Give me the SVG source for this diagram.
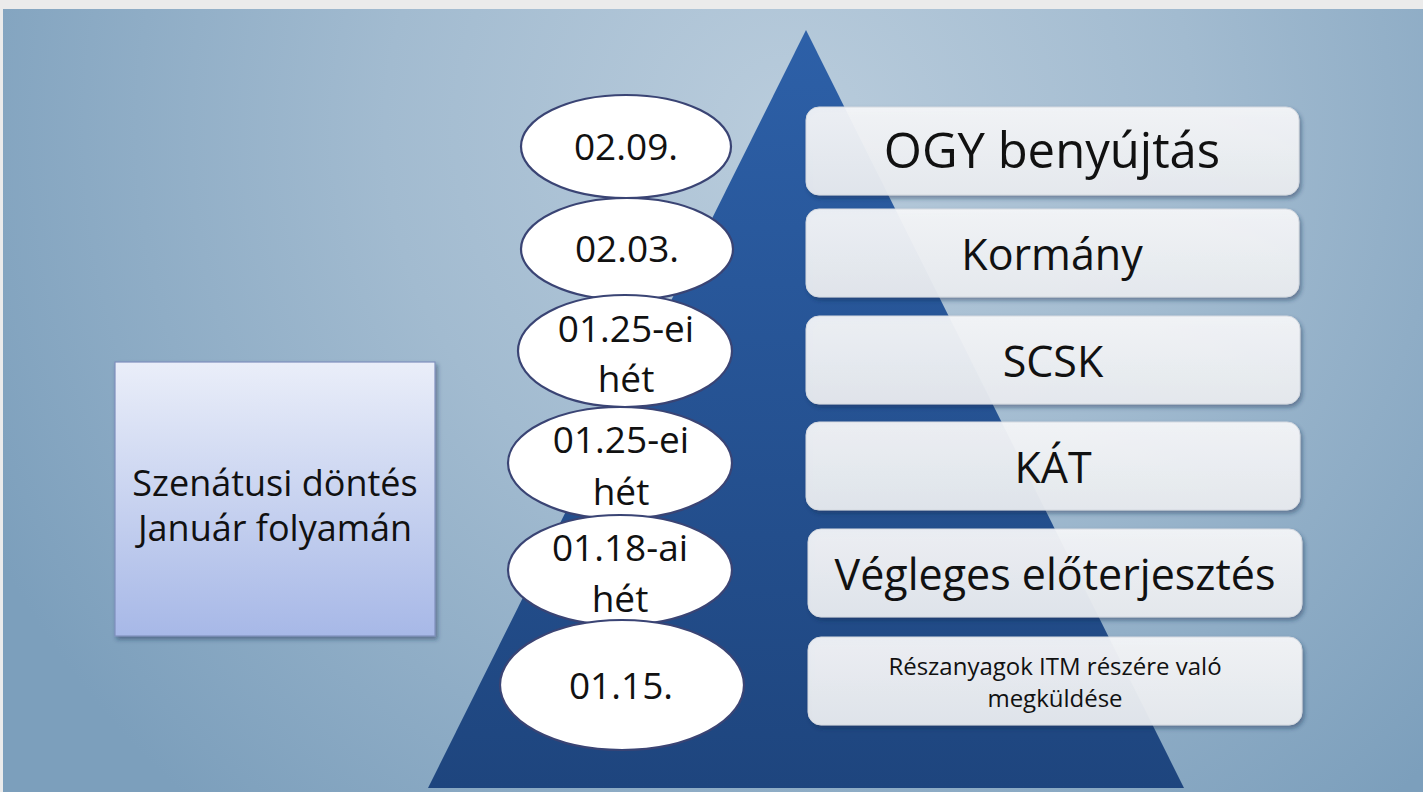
<svg xmlns="http://www.w3.org/2000/svg" width="1423" height="792" viewBox="0 0 1423 792">
<defs>
<radialGradient id="bg" cx="790" cy="130" r="900" gradientUnits="userSpaceOnUse">
<stop offset="0" stop-color="#b9ccdc"/>
<stop offset="0.45" stop-color="#a2bbd0"/>
<stop offset="1" stop-color="#7c9fbc"/>
</radialGradient>
<linearGradient id="pyr" x1="0" y1="0" x2="0" y2="1">
<stop offset="0" stop-color="#2d60a8"/>
<stop offset="1" stop-color="#1e457e"/>
</linearGradient>
<linearGradient id="boxg" x1="0" y1="0" x2="0" y2="1">
<stop offset="0" stop-color="#f7f8fa"/>
<stop offset="1" stop-color="#eaedf1"/>
</linearGradient>
<linearGradient id="leftg" x1="0" y1="0" x2="0" y2="1">
<stop offset="0" stop-color="#eaeef9"/>
<stop offset="1" stop-color="#a7b8e7"/>
</linearGradient>
<filter id="sh" x="-10%" y="-10%" width="125%" height="135%">
<feDropShadow dx="2" dy="3" stdDeviation="2" flood-color="#1f2f4f" flood-opacity="0.45"/>
</filter>
</defs>
<style>
.t{font-family:"Open Sans","Liberation Sans",sans-serif;fill:#111;text-anchor:middle}
.ell{fill:#fff;stroke:#3a4474;stroke-width:2.2}
.box{fill:url(#boxg);fill-opacity:0.93;stroke:#d5d9e0;stroke-width:1;filter:url(#sh)}
.et{font-size:37px}
.bt{font-size:43px}
</style>
<rect x="0" y="0" width="1423" height="792" fill="#ebebeb"/>
<rect x="3" y="9" width="1420" height="783" fill="url(#bg)"/>
<g id="pyramid">
<polygon points="806,30 428,788 1184,788" fill="url(#pyr)"/>
</g>
<g id="connectors"/>
<g id="left-box">
<rect x="115" y="362" width="320" height="274" fill="url(#leftg)" stroke="#7f8fbd" stroke-width="1.2" filter="url(#sh)"/>
<text class="t" x="275" y="496" font-size="36">Szenátusi döntés</text>
<text class="t" x="275" y="541" font-size="36">Január folyamán</text>
</g>
<g id="box-ogy">
<rect class="box" x="806" y="107" width="493" height="88" rx="13"/>
<text class="t" x="1052" y="168" font-size="49">OGY benyújtás</text>
</g>
<g id="box-kormany">
<rect class="box" x="806" y="209" width="493" height="88" rx="13"/>
<text class="t bt" x="1052" y="270">Kormány</text>
</g>
<g id="box-scsk">
<rect class="box" x="806" y="316" width="494" height="88" rx="13"/>
<text class="t bt" x="1053" y="377">SCSK</text>
</g>
<g id="box-kat">
<rect class="box" x="806" y="422" width="494" height="88" rx="13"/>
<text class="t bt" x="1053" y="483">KÁT</text>
</g>
<g id="box-vegleges">
<rect class="box" x="808" y="529" width="494" height="88" rx="13"/>
<text class="t bt" x="1055" y="590">Végleges előterjesztés</text>
</g>
<g id="box-reszanyagok">
<rect class="box" x="808" y="637" width="494" height="88" rx="13"/>
<text class="t" x="1055" y="675" font-size="24" fill="#2a2a2a">Részanyagok ITM részére való</text>
<text class="t" x="1055" y="707" font-size="24" fill="#2a2a2a">megküldése</text>
</g>
<g id="ell-0209">
<ellipse class="ell" cx="626" cy="146.5" rx="105" ry="51.5"/>
<text class="t et" x="626" y="160">02.09.</text>
</g>
<g id="ell-0203">
<ellipse class="ell" cx="627" cy="249" rx="106" ry="51"/>
<text class="t et" x="627" y="262">02.03.</text>
</g>
<g id="ell-0125a">
<ellipse class="ell" cx="625" cy="351" rx="107" ry="56"/>
<text class="t et" x="626" y="342">01.25-ei</text>
<text class="t et" x="626" y="392">hét</text>
</g>
<g id="ell-0125b">
<ellipse class="ell" cx="620" cy="463" rx="112" ry="56"/>
<text class="t et" x="621" y="453">01.25-ei</text>
<text class="t et" x="621" y="505">hét</text>
</g>
<g id="ell-0118">
<ellipse class="ell" cx="620" cy="570" rx="112" ry="55"/>
<text class="t et" x="620" y="561">01.18-ai</text>
<text class="t et" x="620" y="612">hét</text>
</g>
<g id="ell-0115">
<ellipse class="ell" cx="622" cy="685" rx="122" ry="65"/>
<text class="t et" x="621" y="699">01.15.</text>
</g>
</svg>
